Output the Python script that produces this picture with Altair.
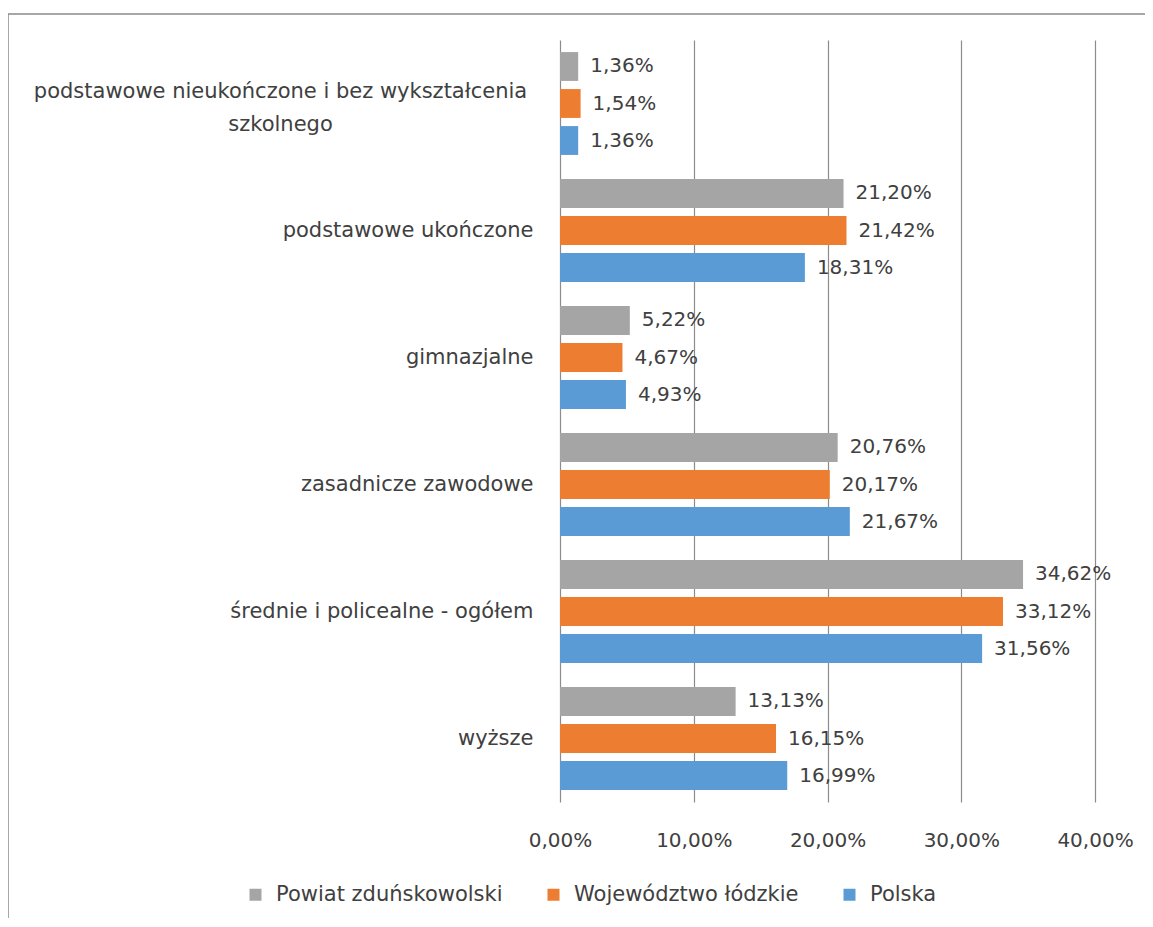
import altair as alt
import pandas as pd

categories = [
    "podstawowe nieukończone i bez wykształcenia szkolnego",
    "podstawowe ukończone",
    "gimnazjalne",
    "zasadnicze zawodowe",
    "średnie i policealne - ogółem",
    "wyższe",
]
series = ["Powiat zduńskowolski", "Województwo łódzkie", "Polska"]
powiat = [1.36, 21.20, 5.22, 20.76, 34.62, 13.13]
wojewodztwo = [1.54, 21.42, 4.67, 20.17, 33.12, 16.15]
polska = [1.36, 18.31, 4.93, 21.67, 31.56, 16.99]
colors = ["#A5A5A5", "#ED7D31", "#5B9BD5"]
x_ticks = [0, 10, 20, 30, 40]

rows = []
for s, vals in zip(series, [powiat, wojewodztwo, polska]):
    for c, v in zip(categories, vals):
        rows.append({"cat": c, "series": s, "value": v,
                     "label": f"{v:.2f}".replace(".", ",") + "%"})
df = pd.DataFrame(rows)

FONT = "DejaVu Sans"
TXT = "#404040"

first_test = "datum.value == '" + categories[0] + "'"
label_expr = (
    "datum.label == '" + categories[0] + "' ? "
    "['podstawowe nieukończone i bez wykształcenia', 'szkolnego'] : datum.label"
)

base = alt.Chart(df)
bars = base.mark_bar().encode(
    y=alt.Y(
        "cat:N", sort=categories, title=None,
        scale=alt.Scale(paddingInner=0.19, paddingOuter=0.095),
        axis=alt.Axis(
            domain=False, ticks=False, labelFontSize=21,
            labelFont=FONT, labelColor=TXT, labelLimit=700,
            labelExpr=label_expr, labelLineHeight=33,
            labelAlign={"condition": {"test": first_test, "value": "center"},
                        "value": "right"},
            labelPadding={"condition": {"test": first_test, "value": 280},
                          "value": 27},
            labelOffset={"condition": {"test": first_test, "value": -12},
                         "value": 0},
        ),
    ),
    yOffset=alt.YOffset("series:N", sort=series,
                        scale=alt.Scale(paddingInner=0.22, paddingOuter=0)),
    x=alt.X(
        "value:Q", title=None,
        scale=alt.Scale(domain=[0, 40], nice=False),
        axis=alt.Axis(
            values=x_ticks, grid=True, gridColor="#8c8c8c", gridWidth=1.2,
            domain=False, ticks=False, labelPadding=28, labelFontSize=20,
            labelFont=FONT, labelColor=TXT, labelFlush=False,
            labelOverlap=False,
            labelExpr="replace(format(datum.value, '.2f'), '.', ',') + '%'",
        ),
    ),
    color=alt.Color(
        "series:N", sort=series,
        scale=alt.Scale(domain=series, range=colors),
        legend=alt.Legend(
            title=None, orient="none", legendX=-315, legendY=844,
            direction="horizontal", symbolType="square", symbolSize=144,
            symbolStrokeWidth=0, columnPadding=40, labelFontSize=21,
            labelFont=FONT, labelColor=TXT, labelOffset=10, labelLimit=400,
        ),
    ),
)

text = base.mark_text(align="left", dx=12, fontSize=20, font=FONT, color=TXT).encode(
    y=alt.Y("cat:N", sort=categories),
    yOffset=alt.YOffset("series:N", sort=series),
    x="value:Q",
    text="label:N",
)

frame_df = pd.DataFrame({"k": [0]})
top_line = alt.Chart(frame_df).mark_rule(color="#8a8a8a", strokeWidth=1.5).encode(
    x=alt.value(-552), x2=alt.value(600), y=alt.value(-26)
)
left_line = alt.Chart(frame_df).mark_rule(color="#8a8a8a", strokeWidth=1.5).encode(
    x=alt.value(-552), y=alt.value(-26), y2=alt.value(900)
)

chart = alt.layer(bars, text, top_line, left_line).properties(
    width=535, height=762,
    autosize=alt.AutoSizeParams(type="none"),
    padding={"left": 552, "top": 32, "right": 50, "bottom": 116},
).configure_view(stroke=None)

chart.save("out.html", embed_options={"renderer": "svg", "actions": False})
